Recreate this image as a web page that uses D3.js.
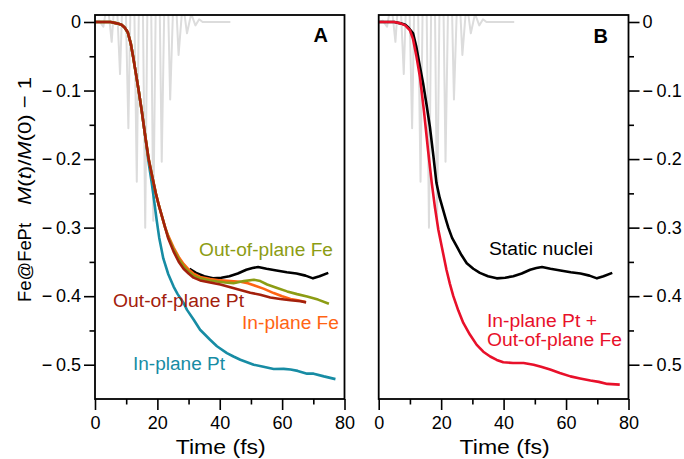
<!DOCTYPE html>
<html>
<head>
<meta charset="utf-8">
<script src="https://cdn.jsdelivr.net/npm/d3@7"></script>
<style>
	body { margin: 0; background: #fff; }
	svg text { font-family: "Liberation Sans", Arial, Helvetica, sans-serif; }
</style>
</head>
<body>
<svg id="chart" width="684" height="459"></svg>
<script>
// -------------- DATA (time in fs, M(t)/M(0) - 1) --------------

// laser pulse trace drawn in light grey at the top of both panels
let pulse = [
	[0, 0], [1.3, 0.002], [2.67, -0.007], [4.0, 0.03], [5.35, -0.029],
	[6.7, 0.06], [8.03, -0.076], [9.4, 0.12], [10.7, -0.155], [12.05, 0.2],
	[13.4, -0.233], [14.75, 0.28], [16.1, -0.3], [17.4, 0.3], [18.7, -0.29],
	[20.05, 0.26], [21.4, -0.204], [22.75, 0.17], [24.1, -0.113], [25.45, 0.08],
	[26.8, -0.048], [28.15, 0.03], [29.5, -0.0165], [30.85, 0.012], [32.2, -0.005],
	[33.4, 0.004], [34.5, 0], [43.4, 0],
];

// common onset of the panel A curves
let onsetA = [
	[0, 0], [5, 0], [7, -0.002], [8.5, -0.004], [9.5, -0.008], [10.5, -0.015],
	[11.5, -0.032], [12.2, -0.05], [13, -0.072], [14, -0.1], [15, -0.13],
	[16, -0.163], [17.2, -0.2], [18.2, -0.222], [19.5, -0.25], [20.5, -0.268],
	[21.5, -0.284], [22.5, -0.3],
];

let inPlanePtTail = [
	[17.2, -0.205], [18.2, -0.235], [19, -0.262], [19.8, -0.29], [20.6, -0.315],
	[21.9, -0.345], [23.5, -0.368], [25.2, -0.386], [26.5, -0.397], [28.4, -0.41],
	[29.5, -0.42], [31.6, -0.434], [33.7, -0.449], [36.9, -0.4636], [39.1, -0.473],
	[42.3, -0.483], [44.4, -0.488], [46.6, -0.4927], [50.9, -0.5], [54, -0.503],
	[57.3, -0.5063], [60.5, -0.506], [62.7, -0.507], [65, -0.509], [68, -0.513],
	[70.1, -0.513], [73.4, -0.517], [77.1, -0.521],
];

let outPlanePtTail = [
	[23.5, -0.316], [25.2, -0.335], [27, -0.351], [28.4, -0.36], [30, -0.367],
	[31.6, -0.373], [33.7, -0.377], [36.9, -0.38], [40.2, -0.383], [43.4, -0.387],
	[46.6, -0.391], [49.8, -0.395], [53, -0.398], [56.2, -0.402], [59.4, -0.404],
	[62.7, -0.406], [65.9, -0.4075], [67.7, -0.409],
];

let inPlaneFeTail = [
	[23.5, -0.312], [25.2, -0.329], [27, -0.344], [28.4, -0.353], [30, -0.361],
	[31.6, -0.367], [33.7, -0.372], [36.9, -0.375], [40.2, -0.377], [43.4, -0.378],
	[46.6, -0.379], [49, -0.381], [50.9, -0.384], [54, -0.389], [57.3, -0.3955],
	[60, -0.4], [62.7, -0.404], [65, -0.406], [67.5, -0.4085],
];

let outPlaneFeTail = [
	[23.5, -0.314], [25.2, -0.332], [27, -0.347], [28.4, -0.356], [30, -0.364],
	[31.6, -0.37], [33.7, -0.374], [36.9, -0.377], [39.1, -0.3785], [41.7, -0.38],
	[44.4, -0.381], [47.7, -0.378], [50.9, -0.376], [53, -0.378], [55.2, -0.383],
	[58.4, -0.388], [61.6, -0.393], [64.8, -0.397], [68, -0.4005], [71.5, -0.405],
	[75, -0.411],
];

let staticNuclei = [
	[0, 0], [5, 0], [7, -0.002], [8.5, -0.004], [9.5, -0.008], [11, -0.0165],
	[12, -0.035], [13, -0.06], [14.2, -0.089], [15.3, -0.12], [16.4, -0.153],
	[17.5, -0.195], [18.5, -0.235], [19.5, -0.256], [20.5, -0.272], [21.5, -0.288],
	[22.3, -0.3], [23.5, -0.315], [25, -0.3275], [26.5, -0.34], [28.2, -0.352],
	[30.3, -0.36], [32.4, -0.366], [35, -0.371], [37.8, -0.374], [40.5, -0.373],
	[43.1, -0.371], [45.8, -0.367], [48.5, -0.3615], [50.5, -0.359], [52.3, -0.3575],
	[55, -0.36], [58.2, -0.3625], [61.5, -0.365], [64.6, -0.367], [67.5, -0.37],
	[69.9, -0.374], [72, -0.371], [74.8, -0.366],
];

let inPtOutFe = [
	[0, 0], [5, 0], [7, -0.002], [8.5, -0.005], [10, -0.012], [11, -0.025],
	[12, -0.048], [13.2, -0.08], [14.5, -0.13], [15.8, -0.187], [17, -0.235],
	[18, -0.27], [19.1, -0.303], [20.3, -0.33], [21.7, -0.3615], [22.8, -0.382],
	[23.9, -0.4], [25.5, -0.421], [27.1, -0.439], [29.2, -0.456], [31.4, -0.471],
	[33.5, -0.481], [35.7, -0.488], [37.8, -0.493], [39.9, -0.4965], [43, -0.4975],
	[46.4, -0.4975], [49.6, -0.5], [52, -0.503], [54.9, -0.507], [58, -0.512],
	[61.4, -0.517], [64.5, -0.52], [67.8, -0.523], [70.5, -0.525], [73.2, -0.528],
	[77.2, -0.529],
];

let xTicks = [0, 20, 40, 60, 80];
let xMinorTicks = [10, 30, 50, 70];
let yTicks = [0, -0.1, -0.2, -0.3, -0.4, -0.5];
let yMinorTicks = [-0.05, -0.15, -0.25, -0.35, -0.45];

// -------------- SETUP --------------
let svg = d3.select("#chart");

let yScale = d3.scaleLinear().domain([0.0102, -0.55]).range([15, 399]);
let xScaleA = d3.scaleLinear().domain([0, 80]).range([95, 344.5]);
let xScaleB = d3.scaleLinear().domain([0, 80]).range([378.7, 628.5]);

let colors = {
	inPt: "#178ca4",
	outPt: "#a3200c",
	inFe: "#ff6414",
	outFe: "#8c9c14",
	mixed: "#e8102a",
	pulse: "#dcdcdc",
};

// "−0.1" style labels with a thin gap after the minus
let yTickFormat = (d) =>
	d === 0 ? "0" : "\u2212\u2009" + d3.format(".1f")(Math.abs(d));

function drawPanel(id, xScale, side) {
	let g = svg.append("g").attr("class", `panel-${id}`);
	let x0 = xScale.range()[0];
	let x1 = xScale.range()[1];

	g.append("clipPath")
		.attr("id", `clip-${id}`)
		.append("rect")
		.attr("x", x0)
		.attr("y", 15)
		.attr("width", x1 - x0)
		.attr("height", 399 - 15);

	let plotG = g.append("g").attr("clip-path", `url(#clip-${id})`);

	// x axis
	g.append("g")
		.attr("transform", `translate(0, 399)`)
		.call(d3.axisBottom(xScale).tickValues(xTicks).tickSize(11).tickPadding(6))
		.call(styleAxis);
	g.append("g")
		.attr("transform", `translate(0, 399)`)
		.call(d3.axisBottom(xScale).tickValues(xMinorTicks).tickSize(5.5).tickFormat(""))
		.call(styleAxis);

	// y axis, left in A and right in B
	let yAxis = side === "left" ? d3.axisLeft : d3.axisRight;
	let yPos = side === "left" ? x0 : x1;
	g.append("g")
		.attr("transform", `translate(${yPos}, 0)`)
		.call(yAxis(yScale).tickValues(yTicks).tickSize(11).tickPadding(3).tickFormat(yTickFormat))
		.call(styleAxis);
	g.append("g")
		.attr("transform", `translate(${yPos}, 0)`)
		.call(yAxis(yScale).tickValues(yMinorTicks).tickSize(5.5).tickFormat(""))
		.call(styleAxis);

	g.append("text")
		.attr("x", (x0 + x1) / 2 + 1)
		.attr("y", 454)
		.attr("text-anchor", "middle")
		.attr("textLength", 90)
		.attr("lengthAdjust", "spacingAndGlyphs")
		.style("font-size", "20.5px")
		.text("Time (fs)");

	return plotG;
}

function styleAxis(sel) {
	sel.select(".domain").remove();
	sel.selectAll(".tick line").attr("stroke", "#000").attr("stroke-width", 1.6);
	sel.selectAll(".tick text")
		.attr("fill", "#000")
		.style("font-size", "18px");
}

function drawLine(g, data, xScale, color, width) {
	let line = d3
		.line()
		.x((d) => xScale(d[0]))
		.y((d) => yScale(d[1]));
	g.append("path")
		.datum(data)
		.attr("d", line)
		.attr("fill", "none")
		.attr("stroke", color)
		.attr("stroke-width", width)
		.attr("stroke-linejoin", "round");
}

function addLabel(x, y, text, color, len) {
	svg.append("text")
		.attr("x", x)
		.attr("y", y)
		.attr("fill", color)
		.attr("textLength", len)
		.attr("lengthAdjust", "spacingAndGlyphs")
		.style("font-size", "18px")
		.text(text);
}

// -------------- PANEL A --------------
let plotA = drawPanel("A", xScaleA, "left");
drawLine(plotA, pulse, xScaleA, colors.pulse, 2);
drawLine(plotA, staticNuclei.filter((d) => d[0] >= 30), xScaleA, "#000", 2.6);
drawLine(plotA, onsetA.filter((d) => d[0] <= 16).concat(inPlanePtTail), xScaleA, colors.inPt, 2.6);
drawLine(plotA, onsetA.concat(inPlaneFeTail), xScaleA, colors.inFe, 2.6);
drawLine(plotA, onsetA.concat(outPlaneFeTail), xScaleA, colors.outFe, 2.6);
drawLine(plotA, onsetA.concat(outPlanePtTail), xScaleA, colors.outPt, 2.6);

// -------------- PANEL B --------------
let plotB = drawPanel("B", xScaleB, "right");
drawLine(plotB, pulse, xScaleB, colors.pulse, 2);
drawLine(plotB, staticNuclei, xScaleB, "#000", 2.6);
drawLine(plotB, inPtOutFe, xScaleB, colors.mixed, 2.6);

// frames on top
[xScaleA, xScaleB].forEach((s) => {
	svg.append("rect")
		.attr("x", s.range()[0])
		.attr("y", 15)
		.attr("width", s.range()[1] - s.range()[0])
		.attr("height", 399 - 15)
		.attr("fill", "none")
		.attr("stroke", "#000")
		.attr("stroke-width", 1.8);
});

// panel letters
svg.append("text").attr("x", 328).attr("y", 42).attr("text-anchor", "end")
	.style("font-size", "20px").style("font-weight", "bold").text("A");
svg.append("text").attr("x", 608).attr("y", 43).attr("text-anchor", "end")
	.style("font-size", "20px").style("font-weight", "bold").text("B");

// curve labels
addLabel(199, 256, "Out-of-plane Fe", colors.outFe, 134);
addLabel(113, 307, "Out-of-plane Pt", colors.outPt, 131);
addLabel(242, 329, "In-plane Fe", colors.inFe, 97);
addLabel(133, 370, "In-plane Pt", colors.inPt, 92);
addLabel(489, 255, "Static nuclei", "#000", 104);
addLabel(487, 327, "In-plane Pt +", colors.mixed, 110);
addLabel(487, 346, "Out-of-plane Fe", colors.mixed, 135);

// y axis title, two parts
svg.append("text")
	.attr("transform", "translate(31, 302) rotate(-90)")
	.attr("textLength", 79)
	.attr("lengthAdjust", "spacingAndGlyphs")
	.style("font-size", "19px")
	.text("Fe@FePt");

let yTitle = svg.append("text")
	.attr("transform", "translate(31, 205) rotate(-90)")
	.attr("textLength", 128)
	.attr("lengthAdjust", "spacingAndGlyphs")
	.style("font-size", "19px");
yTitle.append("tspan").style("font-style", "italic").text("M");
yTitle.append("tspan").text("(");
yTitle.append("tspan").style("font-style", "italic").text("t");
yTitle.append("tspan").text(")/");
yTitle.append("tspan").style("font-style", "italic").text("M");
yTitle.append("tspan").text("(0) \u2212 1");
</script>
</body>
</html>
